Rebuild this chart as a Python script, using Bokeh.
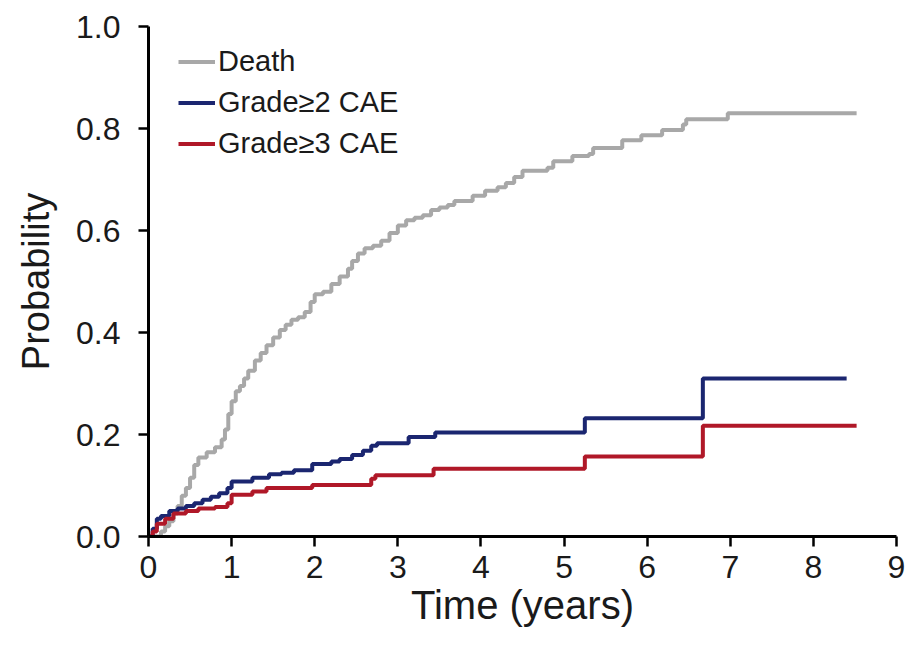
from bokeh.plotting import figure
from bokeh.models import Legend, LegendItem, FixedTicker, Range1d
from bokeh.embed import file_html
from bokeh.resources import INLINE

# ---- data ----
death_t = [0.0, 0.15, 0.2, 0.25, 0.3, 0.35, 0.4, 0.45, 0.5, 0.55, 0.6, 0.7, 0.8, 0.88,
           0.92, 0.96, 1.0, 1.05, 1.1, 1.15, 1.2, 1.28, 1.35, 1.42, 1.5, 1.58, 1.65,
           1.72, 1.8, 1.88, 1.95, 2.0, 2.1, 2.2, 2.3, 2.4, 2.45, 2.52, 2.6, 2.7, 2.8,
           2.9, 3.0, 3.1, 3.2, 3.3, 3.4, 3.5, 3.6, 3.68, 3.9, 4.05, 4.2, 4.3, 4.4,
           4.5, 4.8, 4.87, 5.1, 5.3, 5.35, 5.7, 5.93, 6.18, 6.43, 6.47, 6.97, 8.52]
death_p = [0.0, 0.01, 0.02, 0.03, 0.045, 0.06, 0.08, 0.095, 0.115, 0.14, 0.155, 0.165,
           0.175, 0.19, 0.21, 0.24, 0.265, 0.285, 0.295, 0.31, 0.325, 0.345, 0.36,
           0.375, 0.39, 0.405, 0.415, 0.425, 0.43, 0.44, 0.46, 0.475, 0.48, 0.495,
           0.51, 0.525, 0.54, 0.555, 0.565, 0.57, 0.58, 0.595, 0.61, 0.62, 0.625,
           0.63, 0.64, 0.645, 0.65, 0.658, 0.668, 0.678, 0.685, 0.693, 0.705, 0.717,
           0.723, 0.736, 0.746, 0.75, 0.762, 0.777, 0.787, 0.797, 0.808, 0.818, 0.83,
           0.83]

g2_t = [0.0, 0.05, 0.1, 0.15, 0.25, 0.35, 0.45, 0.55, 0.65, 0.75, 0.85, 0.95, 1.0,
        1.25, 1.45, 1.6, 1.75, 1.97, 2.2, 2.3, 2.45, 2.58, 2.68, 2.75, 3.13, 3.45,
        5.25, 6.67, 8.4]
g2_p = [0.0, 0.015, 0.035, 0.04, 0.05, 0.055, 0.06, 0.065, 0.072, 0.078, 0.085,
        0.095, 0.108, 0.115, 0.122, 0.125, 0.13, 0.142, 0.147, 0.152, 0.16, 0.168,
        0.178, 0.183, 0.195, 0.204, 0.232, 0.31, 0.31]

g3_t = [0.0, 0.05, 0.1, 0.2, 0.3, 0.45, 0.6, 0.8, 0.95, 1.0, 1.25, 1.42, 1.97, 2.68,
        2.73, 3.43, 5.25, 6.67, 8.52]
g3_p = [0.0, 0.01, 0.025, 0.035, 0.045, 0.05, 0.055, 0.058, 0.065, 0.082, 0.088,
        0.095, 0.101, 0.113, 0.12, 0.133, 0.157, 0.217, 0.217]

x_ticks = [0, 1, 2, 3, 4, 5, 6, 7, 8, 9]
y_ticks = [0.0, 0.2, 0.4, 0.6, 0.8, 1.0]
y_tick_labels = {0.0: "0.0", 0.2: "0.2", 0.4: "0.4", 0.6: "0.6", 0.8: "0.8", 1.0: "1.0"}
series_names = ["Death", "Grade\u22652 CAE", "Grade\u22653 CAE"]
series_colors = ["#A8A8A8", "#1B2670", "#B01828"]

FONT = "Liberation Sans"

p = figure(width=914, height=650, output_backend="svg", toolbar_location=None,
           x_range=Range1d(0, 9), y_range=Range1d(0, 1.0),
           min_border_left=148, min_border_right=18, min_border_top=26,
           min_border_bottom=114)
p.frame_width = 748
p.frame_height = 510

p.outline_line_color = None
p.xgrid.visible = False
p.ygrid.visible = False
p.background_fill_color = "white"
p.border_fill_color = "white"

r_death = p.step(death_t, death_p, mode="after", line_color=series_colors[0], line_width=4)
r_g2 = p.step(g2_t, g2_p, mode="after", line_color=series_colors[1], line_width=4)
r_g3 = p.step(g3_t, g3_p, mode="after", line_color=series_colors[2], line_width=4)

for ax in (p.xaxis[0], p.yaxis[0]):
    ax.axis_line_width = 3
    ax.axis_line_color = "black"
    ax.major_tick_line_width = 2.5
    ax.major_tick_line_color = "black"
    ax.major_tick_out = 10
    ax.major_tick_in = 0
    ax.minor_tick_line_color = None
    ax.major_label_text_font = FONT
    ax.major_label_text_color = "#1a1a1a"
    ax.axis_label_text_font = FONT
    ax.axis_label_text_font_style = "normal"
    ax.axis_label_text_color = "#1a1a1a"

p.xaxis.ticker = FixedTicker(ticks=x_ticks)
p.yaxis.ticker = FixedTicker(ticks=y_ticks)
p.yaxis.major_label_overrides = y_tick_labels
p.xaxis.major_label_text_font_size = "32px"
p.yaxis.major_label_text_font_size = "32px"
p.xaxis.axis_label = "Time (years)"
p.yaxis.axis_label = "Probability"
p.xaxis.axis_label_text_font_size = "40px"
p.yaxis.axis_label_text_font_size = "38px"
p.xaxis.major_label_standoff = 9
p.yaxis.major_label_standoff = 18
p.xaxis.axis_label_standoff = 2
p.yaxis.axis_label_standoff = 16

legend = Legend(items=[LegendItem(label=series_names[0], renderers=[r_death]),
                       LegendItem(label=series_names[1], renderers=[r_g2]),
                       LegendItem(label=series_names[2], renderers=[r_g3])],
                location=(30, 372), padding=0, margin=0, spacing=0,
                glyph_width=37, glyph_height=41, label_height=41,
                label_standoff=3, label_text_font=FONT, label_text_font_size="29px",
                label_text_color="#1a1a1a",
                border_line_color=None, background_fill_alpha=0)
p.add_layout(legend)

open("out.html", "w").write(file_html(p, INLINE))
